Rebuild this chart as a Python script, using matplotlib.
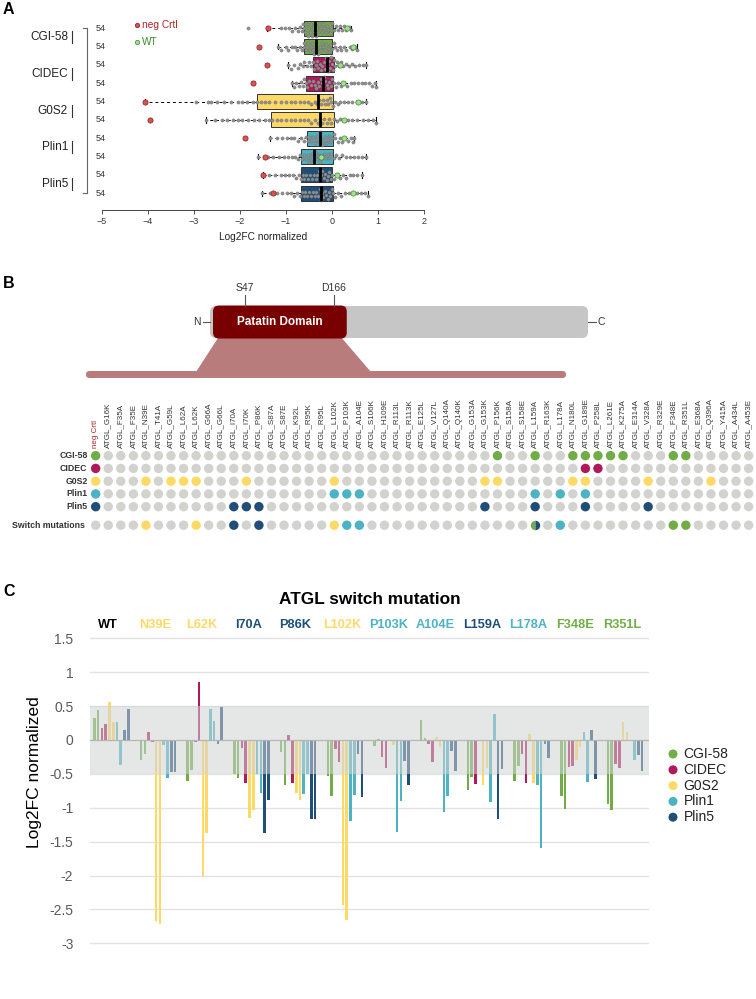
import numpy as np
import matplotlib
matplotlib.use('Agg')
from matplotlib import pyplot as plt
from matplotlib import font_manager
from matplotlib.patches import FancyBboxPatch, Polygon

plt.rcParams['font.family'] = ['Liberation Sans', 'DejaVu Sans']
_names = {f.name for f in font_manager.fontManager.ttflist}
narrow = ['Liberation Sans Narrow', 'Liberation Sans'] if 'Liberation Sans Narrow' in _names else ['Liberation Sans']

# ---------------- data ----------------
proteins = ['CGI-58', 'CIDEC', 'G0S2', 'Plin1', 'Plin5']
prot_colors = ['#70ad47', '#b0185a', '#ffd966', '#4bb3c4', '#1f4e79']
color_of = dict(zip(proteins, prot_colors))

# panel A: box stats per screen row (2 replicates per protein)
a_rows = ['CGI-58', 'CGI-58', 'CIDEC', 'CIDEC', 'G0S2', 'G0S2', 'Plin1', 'Plin1', 'Plin5', 'Plin5']
a_n = [54, 54, 54, 54, 54, 54, 54, 54, 54, 54]
a_q1 = [-0.61, -0.61, -0.41, -0.57, -1.64, -1.32, -0.54, -0.67, -0.68, -0.67]
a_med = [-0.38, -0.36, -0.11, -0.20, -0.30, -0.27, -0.27, -0.40, -0.27, -0.25]
a_q3 = [0.02, 0.00, 0.04, 0.01, 0.01, 0.04, 0.01, 0.01, 0.00, 0.02]
a_lo = [-1.41, -1.17, -0.95, -0.88, -4.05, -2.73, -1.35, -1.61, -1.50, -1.53]
a_hi = [0.42, 0.53, 0.74, 0.96, 0.73, 0.95, 0.48, 0.73, 0.64, 0.78]
a_neg = [-1.40, -1.58, -1.42, -1.71, -4.05, -3.96, -1.89, -1.45, -1.50, -1.28]
a_wt = [0.33, 0.46, 0.17, 0.24, 0.56, 0.25, 0.25, -0.25, 0.11, 0.46]

pts_cgi58_1 = [-1.82, -1.41, -1.1, -1.02, -0.93, -0.86, -0.8, -0.74, -0.7, -0.66, -0.63, -0.6, -0.58,
               -0.55, -0.53, -0.5, -0.48, -0.46, -0.43, -0.41, -0.39, -0.37, -0.35, -0.33, -0.3, -0.28,
               -0.25, -0.22, -0.2, -0.17, -0.14, -0.11, -0.08, -0.05, -0.02, 0.0, 0.04, 0.08, 0.12,
               0.16, 0.21, 0.26, 0.3, 0.36, 0.42]
pts_cgi58_2 = [-1.17, -1.12, -1.0, -0.95, -0.88, -0.8, -0.76, -0.7, -0.66, -0.62, -0.6, -0.57, -0.54,
               -0.52, -0.49, -0.46, -0.44, -0.41, -0.39, -0.37, -0.35, -0.33, -0.3, -0.27, -0.25, -0.22,
               -0.19, -0.16, -0.13, -0.1, -0.07, -0.04, -0.01, 0.03, 0.07, 0.11, 0.16, 0.2, 0.26, 0.31,
               0.38, 0.44, 0.5, 0.53]
pts_cidec_1 = [-0.95, -0.9, -0.82, -0.75, -0.7, -0.64, -0.6, -0.55, -0.5, -0.46, -0.42, -0.39, -0.36,
               -0.33, -0.3, -0.27, -0.24, -0.21, -0.18, -0.15, -0.13, -0.11, -0.09, -0.07, -0.05, -0.03,
               -0.01, 0.01, 0.03, 0.06, 0.1, 0.14, 0.19, 0.24, 0.3, 0.36, 0.43, 0.5, 0.58, 0.66, 0.74]
pts_cidec_2 = [-0.88, -0.83, -0.78, -0.72, -0.67, -0.63, -0.6, -0.57, -0.54, -0.5, -0.46, -0.42, -0.38,
               -0.35, -0.31, -0.28, -0.25, -0.22, -0.2, -0.18, -0.15, -0.12, -0.09, -0.06, -0.03, 0.0,
               0.03, 0.08, 0.13, 0.19, 0.26, 0.33, 0.4, 0.48, 0.56, 0.64, 0.72, 0.8, 0.86, 0.92, 0.96]
pts_g0s2_1 = [-4.05, -2.95, -2.7, -2.62, -2.5, -2.35, -2.2, -2.05, -1.95, -1.85, -1.72, -1.64, -1.55,
              -1.45, -1.36, -1.25, -1.12, -1.0, -0.9, -0.8, -0.7, -0.6, -0.52, -0.45, -0.38, -0.32,
              -0.28, -0.24, -0.2, -0.16, -0.12, -0.08, -0.05, -0.02, 0.01, 0.06, 0.12, 0.18, 0.26,
              0.34, 0.44, 0.55, 0.64, 0.73]
pts_g0s2_2 = [-2.73, -2.55, -2.4, -2.28, -2.15, -2.05, -1.95, -1.82, -1.7, -1.58, -1.46, -1.38, -1.3,
              -1.2, -1.1, -1.0, -0.9, -0.8, -0.7, -0.6, -0.52, -0.45, -0.38, -0.31, -0.27, -0.22,
              -0.17, -0.12, -0.07, -0.02, 0.03, 0.1, 0.17, 0.25, 0.34, 0.44, 0.55, 0.66, 0.78, 0.88, 0.95]
pts_plin1_1 = [-1.35, -1.2, -1.08, -0.98, -0.9, -0.82, -0.75, -0.68, -0.62, -0.57, -0.53, -0.49, -0.45,
               -0.41, -0.38, -0.35, -0.32, -0.29, -0.27, -0.25, -0.22, -0.19, -0.16, -0.13, -0.1, -0.07,
               -0.04, -0.01, 0.03, 0.07, 0.12, 0.17, 0.22, 0.28, 0.34, 0.4, 0.45, 0.48]
pts_plin1_2 = [-1.61, -1.4, -1.28, -1.15, -1.05, -0.96, -0.88, -0.8, -0.74, -0.69, -0.65, -0.61, -0.57,
               -0.53, -0.5, -0.47, -0.44, -0.41, -0.38, -0.35, -0.32, -0.29, -0.26, -0.22, -0.18, -0.14,
               -0.1, -0.06, -0.02, 0.03, 0.09, 0.15, 0.22, 0.3, 0.38, 0.47, 0.56, 0.65, 0.73]
pts_plin5_1 = [-1.5, -1.38, -1.25, -1.12, -1.02, -0.93, -0.85, -0.78, -0.72, -0.68, -0.64, -0.6, -0.56,
               -0.52, -0.48, -0.44, -0.4, -0.36, -0.32, -0.29, -0.27, -0.24, -0.21, -0.18, -0.15, -0.12,
               -0.09, -0.06, -0.03, 0.0, 0.05, 0.1, 0.16, 0.23, 0.3, 0.38, 0.46, 0.55, 0.64]
pts_plin5_2 = [-1.53, -1.35, -1.2, -1.08, -0.98, -0.9, -0.83, -0.76, -0.7, -0.66, -0.62, -0.58, -0.54,
               -0.5, -0.46, -0.42, -0.38, -0.34, -0.3, -0.27, -0.25, -0.22, -0.19, -0.16, -0.13, -0.1,
               -0.07, -0.04, -0.01, 0.02, 0.07, 0.13, 0.2, 0.28, 0.36, 0.45, 0.54, 0.63, 0.72, 0.78]
a_points = [pts_cgi58_1, pts_cgi58_2, pts_cidec_1, pts_cidec_2, pts_g0s2_1, pts_g0s2_2,
            pts_plin1_1, pts_plin1_2, pts_plin5_1, pts_plin5_2]

# panel B: ATGL mutants and hits per interaction partner
atgl_len = 504
patatin = (5, 183)
sites = [('S47', 47), ('D166', 166)]
b_mutations = ['G16K', 'F35A', 'F35E', 'N39E', 'T41A', 'G59L', 'L62A', 'L62K', 'G66A', 'G66L', 'I70A',
               'I70K', 'P86K', 'S87A', 'S87E', 'K92L', 'R95K', 'R95L', 'L102K', 'P103K', 'A104E', 'S106K',
               'H109E', 'R113L', 'R113K', 'E125L', 'V127L', 'Q140A', 'Q140K', 'G153A', 'G153K', 'P156K',
               'S158A', 'S158E', 'L159A', 'R163K', 'L178A', 'N180L', 'G189E', 'P258L', 'L261E', 'K275A',
               'E314A', 'V328A', 'R329E', 'F348E', 'R351L', 'E368A', 'Q396A', 'Y415A', 'A434L', 'A453E']
hits_cgi58 = ['P156K', 'L159A', 'N180L', 'G189E', 'P258L', 'L261E', 'K275A', 'F348E', 'R351L']
hits_cidec = ['G189E', 'P258L']
hits_g0s2 = ['N39E', 'G59L', 'L62A', 'L62K', 'I70K', 'L102K', 'G153K', 'P156K', 'N180L', 'G189E',
             'V328A', 'Q396A']
hits_plin1 = ['L102K', 'P103K', 'A104E', 'L159A', 'L178A', 'G189E']
hits_plin5 = ['I70A', 'I70K', 'P86K', 'G153K', 'L159A', 'G189E', 'V328A']
b_hits = [hits_cgi58, hits_cidec, hits_g0s2, hits_plin1, hits_plin5]
switch_mut = ['N39E', 'L62K', 'I70A', 'P86K', 'L102K', 'P103K', 'A104E', 'L159A', 'L178A', 'F348E', 'R351L']
switch_partner = ['G0S2', 'G0S2', 'Plin5', 'Plin5', 'G0S2', 'Plin1', 'Plin1', 'CGI-58+Plin5', 'Plin1',
                  'CGI-58', 'CGI-58']

# panel C: log2FC per switch mutation, two replicates per partner
c_mutations = ['WT', 'N39E', 'L62K', 'I70A', 'P86K', 'L102K', 'P103K', 'A104E', 'L159A', 'L178A',
               'F348E', 'R351L']
c_label_colors = ['black', '#ffd966', '#ffd966', '#1f4e79', '#1f4e79', '#ffd966', '#4bb3c4', '#4bb3c4',
                  '#1f4e79', '#4bb3c4', '#70ad47', '#70ad47']
c_cgi58 = [[0.32, 0.44], [-0.30, -0.21], [-0.61, -0.45], [-0.50, -0.56], [-0.18, -0.67], [-0.53, -0.83],
           [-0.09, 0.02], [0.29, 0.03], [-0.74, -0.54], [-0.60, -0.39], [-0.83, -1.02], [-0.94, -1.04]]
c_cidec = [[0.17, 0.23], [0.12, -0.03], [-0.03, 0.85], [-0.12, -0.63], [0.07, -0.64], [-0.13, -0.32],
           [-0.25, -0.42], [-0.06, -0.32], [-0.65, 0.00], [-0.21, -0.64], [-0.40, -0.39], [-0.35, -0.41]]
c_g0s2 = [[0.56, 0.26], [-2.67, -2.72], [-2.00, -1.38], [-1.15, -1.04], [-0.79, -0.89], [-2.44, -2.65],
          [0.00, -0.07], [0.05, -0.11], [-0.67, -0.41], [0.09, -0.63], [-0.29, -0.11], [0.27, 0.12]]
c_plin1 = [[0.26, -0.37], [-0.08, -0.56], [0.45, 0.28], [-0.50, -0.78], [-0.80, -0.50], [-1.19, -0.81],
           [-1.36, -0.90], [-1.07, -0.82], [-0.91, 0.39], [-0.66, -1.60], [0.11, -0.62], [0.00, -0.30]]
c_plin5 = [[0.15, 0.45], [-0.47, -0.47], [-0.06, 0.48], [-1.37, -0.88], [-1.17, -1.16], [-0.21, -0.84],
           [-0.31, -0.67], [-0.16, -0.46], [-1.17, -0.43], [-0.06, -0.26], [0.15, -0.58], [-0.22, -0.46]]
c_values = [c_cgi58, c_cidec, c_g0s2, c_plin1, c_plin5]

# ---------------- figure ----------------
W, H = 756, 999
fig = plt.figure(figsize=(W / 100, H / 100), dpi=100)


def rect(x0, y0, x1, y1):
    # pixel box (top-left origin) -> figure fraction
    return [x0 / W, 1 - y1 / H, (x1 - x0) / W, (y1 - y0) / H]


ov = fig.add_axes([0, 0, 1, 1])
ov.set_xlim(0, W)
ov.set_ylim(H, 0)
ov.axis('off')

for letter, (x, y) in zip('ABC', [(3, 9), (3, 283), (3, 592)]):
    ov.text(x, y, letter, fontsize=11.5, fontweight='bold', va='center', ha='left')

# ---------- panel A ----------
axA = fig.add_axes(rect(101.7, 20, 424.3, 210))
axA.patch.set_alpha(0)
axA.set_xlim(-5, 2)
axA.set_ylim(9.91, -0.45)

stats = [dict(med=a_med[i], q1=a_q1[i], q3=a_q3[i], whislo=a_lo[i], whishi=a_hi[i], fliers=[])
         for i in range(len(a_rows))]
bp = axA.bxp(stats, positions=range(len(a_rows)), widths=0.82, orientation='horizontal',
             patch_artist=True, showfliers=False, capwidths=0.3,
             boxprops=dict(edgecolor='#333333', linewidth=0.7),
             medianprops=dict(color='black', linewidth=2, zorder=6),
             whiskerprops=dict(color='black', linewidth=0.7, linestyle=(0, (3, 3))),
             capprops=dict(color='black', linewidth=0.8))
for patch, name in zip(bp['boxes'], a_rows):
    patch.set_facecolor(color_of[name])


def swarm(vals, unit_px, row_px, dot=3.6, step=1.3, lim=8.0):
    vals = np.asarray(vals, float)
    xs = vals * unit_px
    offs = np.zeros(len(vals))
    done = []
    cands = [0.0]
    for k in range(1, int(lim / step) + 1):
        cands += [k * step, -k * step]
    for i in np.argsort(vals):
        best, best_d = 0.0, -1.0
        for c in cands:
            dmin = min([np.hypot(xs[i] - xs[j], c - offs[j]) for j in done] or [99.0])
            if dmin >= dot:
                best = c
                break
            if dmin > best_d:
                best, best_d = c, dmin
        offs[i] = best
        done.append(i)
    return offs / row_px


for i, pts in enumerate(a_points):
    off = swarm(pts, 46.09, 18.33)
    axA.scatter(pts, i + off, s=5.5, c='#8e8e8e', edgecolors='#6a6a6a', linewidths=0.25, zorder=4)
axA.scatter(a_neg, range(len(a_rows)), s=14, c='#d9534f', edgecolors='#8b1a1a', linewidths=0.5, zorder=5)
axA.scatter(a_wt, range(len(a_rows)), s=14, c='#a8dc8e', edgecolors='#3b8a2a', linewidths=0.5, zorder=5)

for s in ['top', 'right', 'left']:
    axA.spines[s].set_visible(False)
axA.spines['bottom'].set_bounds(-5, 2)
axA.spines['bottom'].set_color('#444444')
axA.spines['bottom'].set_linewidth(0.7)
axA.set_yticks([])
axA.set_xticks(range(-5, 3))
axA.set_xticklabels(['\u22125', '\u22124', '\u22123', '\u22122', '\u22121', '0', '1', '2'])
axA.tick_params(axis='x', length=3, width=0.6, pad=2, labelsize=6.5, colors='#333333')
axA.set_xlabel('Log2FC normalized', fontsize=7.3, labelpad=4, color='#222222')


def row_px(i):
    return 28.25 + 18.33 * i


for i, n in enumerate(a_n):
    ov.text(101, row_px(i), str(n), ha='center', va='center', fontsize=6.5, color='#333333')
ov.plot([86.7, 86.7], [row_px(0), row_px(9)], color='#666666', lw=0.8)
for i in (0, 9):
    ov.plot([82.5, 86.7], [row_px(i)] * 2, color='#666666', lw=0.8)
for k, name in enumerate(proteins):
    yc = (row_px(2 * k) + row_px(2 * k + 1)) / 2
    ov.plot([72, 72], [yc - 6, yc + 6], color='#333333', lw=0.8)
    ov.text(68, yc, name, ha='right', va='center', fontsize=8.5, color='#222222')

ov.scatter([136.7], [25], s=10, c='#d9534f', edgecolors='#8b1a1a', linewidths=0.5)
ov.text(141.5, 25, 'neg Crtl', ha='left', va='center', fontsize=7.3, color='#b22222')
ov.scatter([136.7], [42.3], s=10, c='#a8dc8e', edgecolors='#3b8a2a', linewidths=0.5)
ov.text(141.5, 42.3, 'WT', ha='left', va='center', fontsize=7.3, color='#3b8a2a')

# ---------- panel B: protein scheme ----------
px0, px1 = 210, 588


def res_px(r):
    return px0 + (r - 1) * (px1 - px0) / (atgl_len - 1)


ov.add_patch(FancyBboxPatch((px0, 306), px1 - px0, 32, boxstyle='round,pad=0,rounding_size=6',
                            fc='#c6c6c6', ec='none'))
d0, d1 = res_px(patatin[0]), res_px(patatin[1])
ov.add_patch(Polygon([(d0 + 5, 338), (d1 - 5, 338), (371, 372), (196, 372)], closed=True,
                     fc='#b97c7c', ec='none'))
ov.add_patch(FancyBboxPatch((86, 371), 480, 7, boxstyle='round,pad=0,rounding_size=3.5',
                            fc='#b97c7c', ec='none'))
ov.add_patch(FancyBboxPatch((d0, 305.5), d1 - d0, 33, boxstyle='round,pad=0,rounding_size=6',
                            fc='#780000', ec='none'))
ov.text((d0 + d1) / 2, 322, 'Patatin Domain', ha='center', va='center', color='white',
        fontsize=8.5, fontweight='bold', family=narrow)
for lab, r in sites:
    x = res_px(r)
    ov.plot([x, x], [295, 306], color='#555555', lw=0.8)
    ov.text(x, 293, lab, ha='center', va='bottom', fontsize=7.5, family=narrow, color='#333333')
ov.plot([203, px0], [322, 322], color='#555555', lw=0.8)
ov.text(201, 322, 'N', ha='right', va='center', fontsize=7.5, family=narrow, color='#333333')
ov.plot([px1, 596], [322, 322], color='#555555', lw=0.8)
ov.text(598, 322, 'C', ha='left', va='center', fontsize=7.5, family=narrow, color='#333333')

# ---------- panel B: dot grid ----------
axB = fig.add_axes(rect(89.4, 449.3, 754.9, 532.2))
axB.patch.set_alpha(0)
axB.set_xlim(-0.5, len(b_mutations) + 0.5)
axB.set_ylim(6.0, -0.5)
axB.axis('off')
grey = '#d2d2ce'
row_y = [0, 1, 2, 3, 4, 5.45]
col_labels = ['neg Crtl'] + ['ATGL_' + m for m in b_mutations]
for c, lab in enumerate(col_labels):
    axB.text(c, -0.6, lab, rotation=90, ha='center', va='bottom', fontsize=5.8, family=narrow,
             color='#b22222' if c == 0 else '#333333', clip_on=False)

xs, ys, cs = [], [], []
for r, (name, hits) in enumerate(zip(proteins, b_hits)):
    xs.append(0)
    ys.append(row_y[r])
    cs.append(color_of[name])
    for c, m in enumerate(b_mutations, start=1):
        xs.append(c)
        ys.append(row_y[r])
        cs.append(color_of[name] if m in hits else grey)
    axB.text(-0.65, row_y[r], name, ha='right', va='center', fontsize=6.3, fontweight='bold',
             color='#333333', clip_on=False)
split = []
for c, m in enumerate([''] + b_mutations):
    partner = switch_partner[switch_mut.index(m)] if m in switch_mut else None
    if partner is not None and '+' in partner:
        split.append((c, partner.split('+')))
        continue
    xs.append(c)
    ys.append(row_y[5])
    cs.append(color_of[partner] if partner else grey)
axB.text(-0.9, row_y[5], 'Switch mutations', ha='right', va='center', fontsize=6.3, fontweight='bold',
         color='#333333', clip_on=False)
axB.scatter(xs, ys, s=46, c=cs, edgecolors='none')
for c, (pa, pb) in split:
    axB.plot(c, row_y[5], marker='o', ms=6.8, fillstyle='left', mfc=color_of[pa],
             mfcalt=color_of[pb], mec='none', ls='none')

# ---------- panel C ----------
axC = fig.add_axes(rect(90, 630, 649, 950))
axC.patch.set_alpha(0)
gap = 12.35
axC.set_xlim(-1.14, 146.7)
axC.set_ylim(-3.099, 1.622)
for p, (name, vals) in enumerate(zip(proteins, c_values)):
    for rep in range(2):
        xpos = [g * gap + 2 * p + rep for g in range(len(c_mutations))]
        axC.bar(xpos, [v[rep] for v in vals], width=0.68, color=color_of[name], zorder=2, lw=0)
axC.axhspan(-0.5, 0.5, facecolor='#d0d3d3', alpha=0.55, zorder=3, lw=0)
axC.axhline(0, color='#b5b5b5', lw=0.8, zorder=3.5)
axC.set_yticks(np.arange(-3, 1.51, 0.5))
axC.set_yticklabels(['-3', '-2.5', '-2', '-1.5', '-1', '-0.5', '0', '0.5', '1', '1.5'])
axC.set_xticks([])
axC.grid(axis='y', color='#e2e2e2', lw=1)
axC.set_axisbelow(True)
for s in axC.spines.values():
    s.set_visible(False)
axC.tick_params(axis='y', length=0, pad=12, labelsize=10, labelcolor='#595959')
axC.set_ylabel('Log2FC normalized', fontsize=12.5, color='black')
axC.yaxis.set_label_coords(-0.085, 0.556)
for g, (m, col) in enumerate(zip(c_mutations, c_label_colors)):
    axC.text(g * gap + 3.7, 1.70, m, ha='center', va='center', fontsize=9.2, fontweight='bold',
             color=col, clip_on=False)
axC.text(0.5, 1.094, 'ATGL switch mutation', transform=axC.transAxes, ha='center', va='center',
         fontsize=12.4, fontweight='bold')

for k, name in enumerate(proteins):
    y = 754 + 15.8 * k
    ov.scatter([673], [y], s=42, c=color_of[name], edgecolors='none')
    ov.text(683.5, y, name, ha='left', va='center', fontsize=10, color='#222222')

fig.savefig('out.png', dpi=100)
